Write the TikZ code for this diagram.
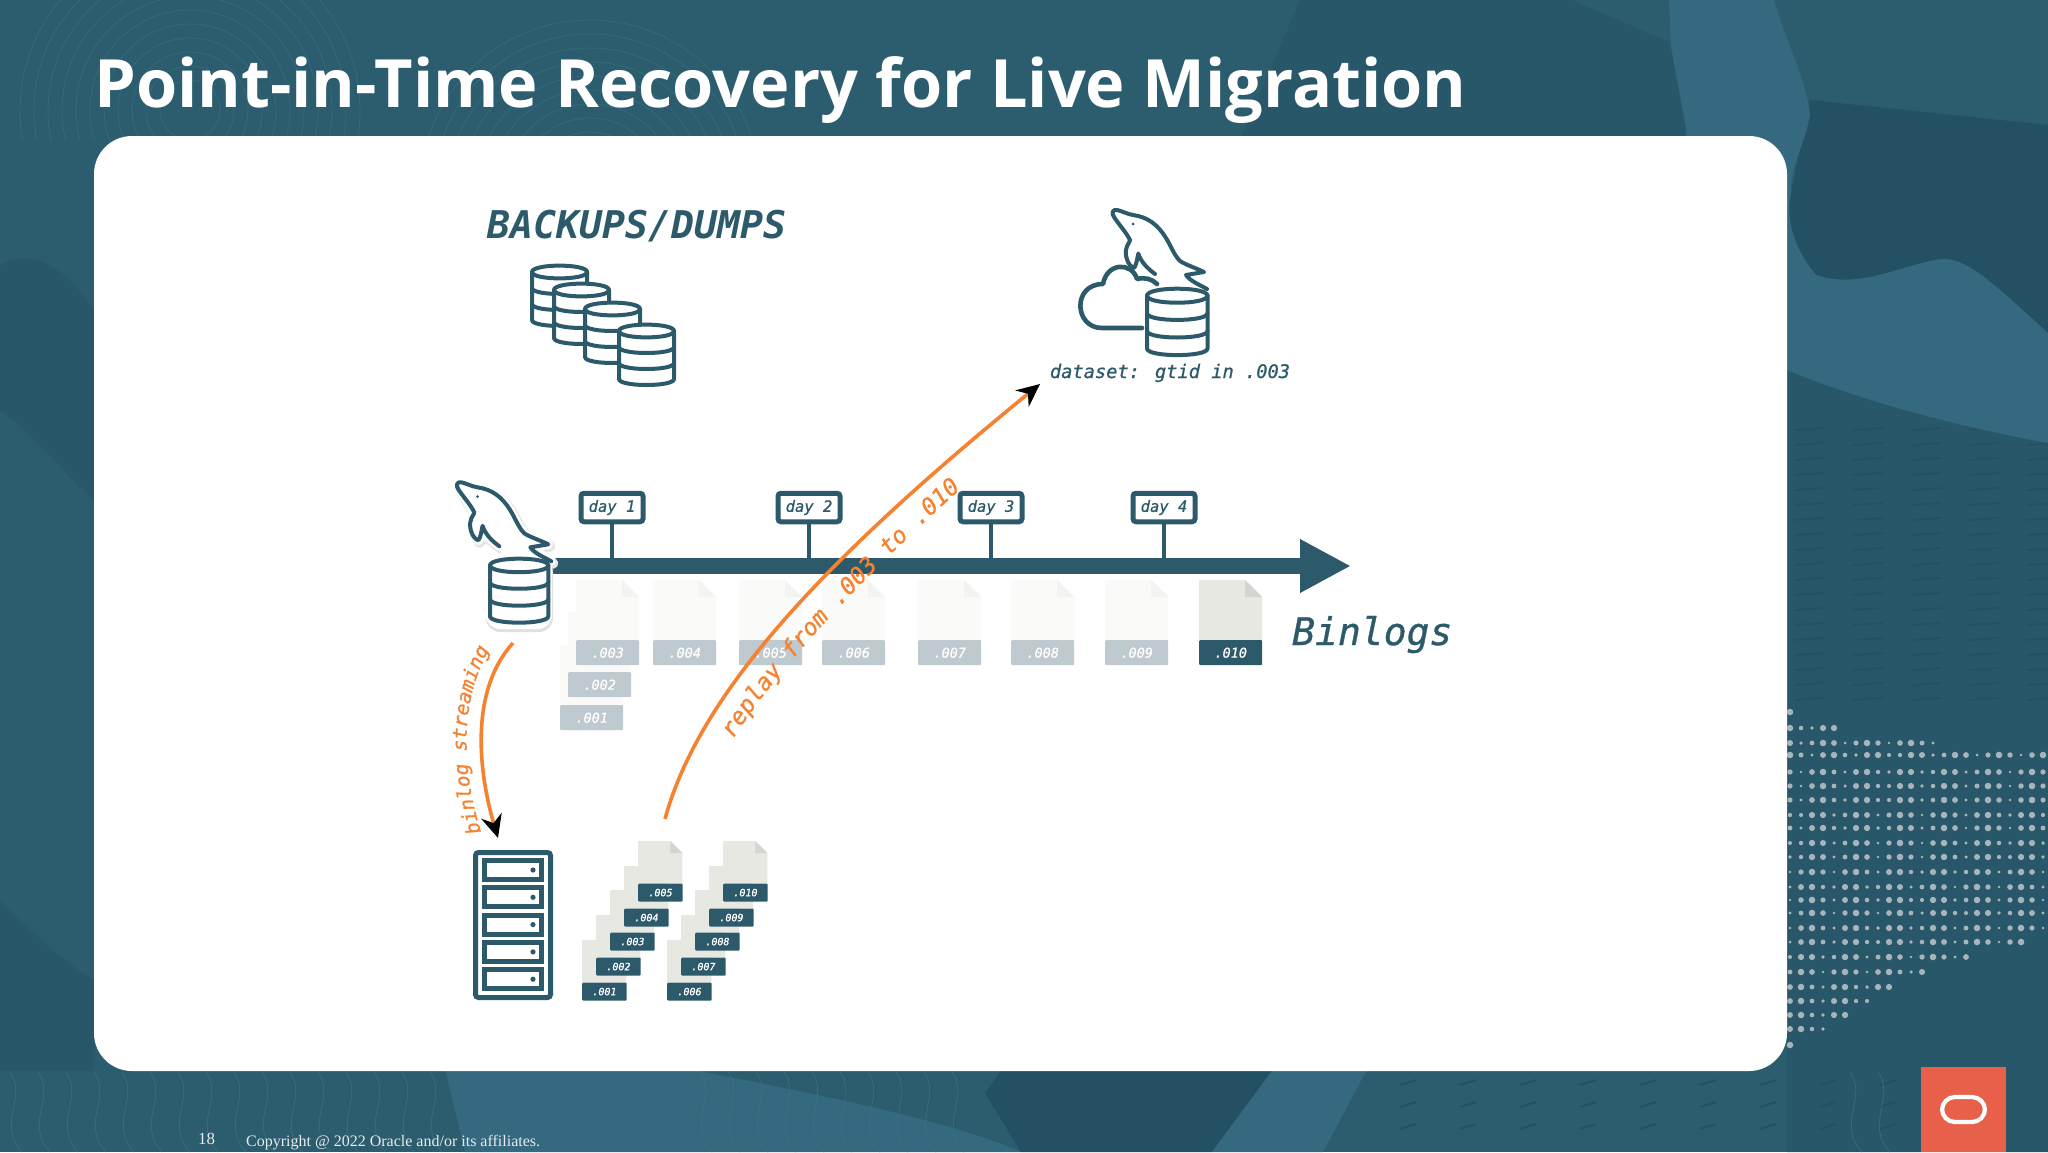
\documentclass[tikz,border=0pt]{standalone}
\usepackage{fontspec}
\usepackage{tikz}
\usetikzlibrary{arrows.meta,decorations.text}

\setmainfont{Liberation Serif}
\newfontfamily\titlefont{Open Sans}[BoldFont={Open Sans Bold}]
\newfontfamily\codefont{DejaVu Sans Mono}[ItalicFeatures={FakeBold=0.8}]

\definecolor{slatebase}{HTML}{2C5D6E}
\definecolor{slatedark}{HTML}{275769}
\definecolor{slatedeep}{HTML}{235062}
\definecolor{slatelight}{HTML}{34697F}
\definecolor{contourline}{HTML}{3D7182}
\definecolor{dotgrey}{HTML}{A8B4BA}
\definecolor{inkteal}{HTML}{2C5A6B}
\definecolor{binorange}{HTML}{F58230}
\definecolor{oraclered}{HTML}{E8604A}
\definecolor{fadelabel}{HTML}{BECACF}
\definecolor{fadebody}{HTML}{FAFAF9}
\definecolor{fadefold}{HTML}{F3F3F0}
\definecolor{solidbody}{HTML}{E8E8E3}
\definecolor{solidfold}{HTML}{D5D5CE}

\newcommand{\codesize}[1]{\codefont\itshape\fontsize{#1}{#1}\selectfont}

\tikzset{
    panel/.style={fill=white, rounded corners=38pt},
    iconline/.style={draw=inkteal, line width=4pt, line cap=round, line join=round},
    daybox/.style={draw=inkteal, line width=5pt, fill=white, rounded corners=3pt, text=inkteal,
        inner sep=0pt, minimum height=28.5pt, font=\codesize{15.5}},
    stem/.style={draw=inkteal, line width=3.6pt},
    flow/.style={draw=binorange, line width=3.6pt, -{Stealth[length=23pt,width=21pt,black]}},
    bigdoc/.style={doclabel/.style={inner sep=0pt, rounded corners=1pt, minimum width=63pt, minimum height=25pt,
        text=white, font=\codesize{13.5}, #1}},
    docfaded/.style={bigdoc={fill=fadelabel},
        docbody/.style={fill=fadebody}, docfold/.style={fill=fadefold}},
    docsolid/.style={bigdoc={fill=inkteal},
        docbody/.style={fill=solidbody}, docfold/.style={fill=solidfold}},
    docsmall/.style={scale=0.706,
        docbody/.style={fill=solidbody}, docfold/.style={fill=solidfold},
        doclabel/.style={inner sep=0pt, rounded corners=1pt, minimum width=44.5pt, minimum height=18pt,
            fill=inkteal, text=white, font=\codesize{10}}},
    pics/dbicon/.style={code={
        \filldraw[iconline, fill=white] (0,7) -- (0,55) .. controls (0,63) and (55,63) .. (55,55)
            -- (55,7) .. controls (55,-1.5) and (0,-1.5) .. (0,7) -- cycle;
        \draw[iconline] (0,7) .. controls (0,15.5) and (55,15.5) .. (55,7);
        \draw[iconline] (0,23) .. controls (0,31) and (55,31) .. (55,23);
        \draw[iconline] (0,39) .. controls (0,47) and (55,47) .. (55,39);
    }},
    pics/dolphin/.style={code={
        \draw[#1] (55,74) .. controls (47,68) and (41,62) .. (38.3,53.5) .. controls (37,60) and (36,66) .. (34,68)
            .. controls (28,66) and (25,56) .. (26,50) .. controls (26.5,45) and (30,42) .. (30,40)
            .. controls (26,32) and (20,26) .. (14,17) .. controls (11,13) and (13,9) .. (17,10)
            .. controls (22,11) and (27,14) .. (33,15) .. controls (48,17) and (58,25) .. (66,38)
            .. controls (71,46) and (74,55) .. (80,61) .. controls (86,65) and (96,68) .. (104,72)
            -- (86,75) .. controls (90,81) and (100,85) .. (107,89);
    }},
}

\newcommand{\binfile}[4]{
    \begin{scope}[shift={(#2,#3)},#1]
        \fill[docbody] (0,0) -- (46,0) -- (63,17) -- (63,60) -- (0,60) -- cycle;
        \fill[docfold] (46,0) -- (46,17) -- (63,17) -- cycle;
        \node[doclabel, anchor=north west] (file#4) at (0,60) {.#4};
    \end{scope}
}

\begin{document}
\begin{tikzpicture}[x=1pt,y=-1pt]
    \useasboundingbox (0,0) rectangle (2048,1152);

    % slide background
    \fill[slatebase] (0,0) rectangle (2048,1152);
    \fill[slatedark] (1300,0) -- (1572,0) -- (1669,42) -- (1690,140) -- (1240,140) -- cycle;
    \fill[slatedeep] (1810,100) -- (2048,125) -- (2048,333) -- (1983,275) -- (1941,259)
        .. controls (1900,265) and (1860,290) .. (1816,275) .. controls (1795,250) and (1785,220) .. (1791,193) -- cycle;
    \fill[slatedark] (1787,370) -- (2048,443) -- (2048,1152) -- (1787,1152) -- cycle;
    \fill[slatedark] (0,265) .. controls (30,250) and (60,260) .. (94,310) -- (94,500) .. controls (60,470) and (30,430) .. (0,410) -- cycle;
    \fill[slatedark] (0,900) .. controls (30,930) and (60,960) .. (94,980) -- (94,1071) -- (0,1071) -- cycle;
    \foreach \rowy in {430,445,...,700} {
        \foreach \colx in {1795,1853,...,2040} {
            \draw[slatedeep, line width=1.6pt] (\colx,\rowy) -- (\colx+30,\rowy-2);
        }
    }
    \fill[slatelight] (1669,0) -- (1774,0) .. controls (1785,40) and (1805,75) .. (1810,115)
        .. controls (1805,145) and (1790,165) .. (1791,193) .. controls (1785,220) and (1795,250) .. (1816,275)
        .. controls (1860,290) and (1900,265) .. (1941,259) .. controls (1965,257) and (1990,280) .. (2048,333)
        -- (2048,443) .. controls (1950,425) and (1860,400) .. (1787,370) -- (1700,370)
        -- (1686,129) -- (1671,46) -- cycle;
    \fill[slatedeep] (1009,1060) -- (985,1093) -- (1021,1152) -- (1212,1152) -- (1280,1060) -- cycle;
    \fill[slatelight] (443,1060) -- (640,1060) .. controls (800,1090) and (950,1120) .. (1021,1152) -- (465,1152) -- cycle;
    \fill[slatelight] (1280,1060) -- (1372,1060) -- (1323,1152) -- (1212,1152) -- cycle;
    \foreach \rowy in {1085,1107,1129} {
        \foreach \colx in {1400,1460,...,1880} {
            \draw[slatedeep, line width=2pt] (\colx,\rowy) -- (\colx+16,\rowy-5);
        }
    }
    \begin{scope}
        \clip (0,0) rectangle (1300,140);
        \foreach \r in {30,44,...,170} {
            \draw[contourline, line width=0.9pt, opacity=.55] (190,110) circle (\r);
            \draw[contourline, line width=0.9pt, opacity=.55] (590,190) circle (\r);
        }
    \end{scope}
    \foreach \colx in {10,38,...,440,700,728,...,960,1850,1878,...,1900} {
        \draw[contourline, line width=0.9pt, opacity=.7] (\colx,1072) .. controls (\colx+18,1095) and (\colx-14,1125) .. (\colx+12,1152);
    }
    \foreach \rowy/\rowend in {712/1795,728/1842,743/1943,755/2048,772/2048,786/2048,800/2048,815/2048,828/2048,843/2048,857/2048,872/2048,887/2048,900/2048,913/2048,928/2048,942/2023,957/1967,972/1927,987/1893,1001/1873,1015/1847,1029/1823,1045/1800} {
        \pgfmathtruncatemacro\lastdot{(\rowend-1790)/11}
        \foreach \k in {0,...,\lastdot} {
            \pgfmathsetmacro\rad{1.3+2*abs(sin(\k*47+\rowy*13))}
            \fill[dotgrey] (1790+11*\k,\rowy) circle (\rad);
        }
    }

    % panel and slide furniture
    \fill[panel] (94,136) rectangle (1787,1071);
    \node[anchor=base west, inner sep=0pt, text=white, font=\titlefont\bfseries\fontsize{66.6}{66.6}\selectfont] (title) at (94,107) {Point-in-Time Recovery for Live Migration};
    \node[anchor=base west, inner sep=0pt, text=white!88!inkteal, font=\fontsize{17}{17}\selectfont] (pagenum) at (198,1144) {18};
    \node[anchor=base west, inner sep=0pt, text=white!88!inkteal, font=\fontsize{16}{16}\selectfont] (copyright) at (246,1146) {Copyright @ 2022 Oracle and/or its affiliates.};
    \fill[oraclered] (1921,1067) rectangle (2006,1152);
    \draw[white, line width=4.2pt, rounded corners=13pt] (1942,1097) rectangle (1985,1122);

    % backups
    \node[anchor=base, inner sep=0pt, text=inkteal, font=\codefont\bfseries\itshape\fontsize{38.2}{38.2}\selectfont] (backups) at (637,238) {BACKUPS/DUMPS};
    \foreach \dbx/\dby in {532/265,554/283,585/302,619/324} {
        \pic at (\dbx,\dby) {dbicon};
    }

    % cloud target
    \draw[iconline, line width=4.6pt] (1142,328) -- (1102,328) .. controls (1074,328) and (1072,284) .. (1103,284)
        .. controls (1107,262) and (1132,262) .. (1137,279) .. controls (1145,277) and (1152,279) .. (1157,284);
    \pic at (1100,200) {dolphin={iconline}};
    \fill[inkteal] (1133,224) circle (1.5);
    \pic[scale=1.1] at (1147,288) {dbicon};
    \node[anchor=base, inner sep=0pt, text=inkteal, font=\codesize{18.7}] (dataset) at (1170,378) {dataset: gtid in .003};

    % timeline
    \coordinate (axisstart) at (540,566);
    \coordinate (axisend) at (1351,566);
    \draw[draw=inkteal, line width=16.5pt, -{Triangle[length=51pt,width=50pt]}] (axisstart) -- (axisend);
    \node[daybox, minimum width=62pt] (day1) at (612,507.5) {day 1};
    \node[daybox, minimum width=62pt] (day2) at (809,507.5) {day 2};
    \node[daybox, minimum width=62pt] (day3) at (991,507.5) {day 3};
    \node[daybox, minimum width=62pt] (day4) at (1164,507.5) {day 4};
    \foreach \d in {day1,day2,day3,day4} {
        \draw[stem] (\d.south) -- (\d.south |- axisstart);
    }

    % source server
    \begin{scope}[shift={(444.3,472.3)}]
        \draw[black!10, line width=11pt, line join=round, line cap=round, shift={(1.5,2)}] (55,74) .. controls (41,62) and (38,60) .. (34,68) .. controls (25,56) and (28,44) .. (30,40) .. controls (20,26) and (10,10) .. (17,10) .. controls (48,17) and (58,25) .. (66,38) .. controls (71,46) and (74,55) .. (80,61) .. controls (86,65) and (96,68) .. (104,72) -- (86,75) -- (107,89);
        \fill[white] (55,74) .. controls (41,62) and (38,60) .. (34,68) .. controls (25,56) and (28,44) .. (30,40) .. controls (20,26) and (10,10) .. (17,10) .. controls (48,17) and (58,25) .. (66,38) .. controls (71,46) and (74,55) .. (80,61) .. controls (86,65) and (96,68) .. (104,72) -- (86,75) -- (107,89) -- (60,90) -- cycle;
        \draw[white, line width=9pt, line join=round, line cap=round] (55,74) .. controls (41,62) and (38,60) .. (34,68) .. controls (25,56) and (28,44) .. (30,40) .. controls (20,26) and (10,10) .. (17,10) .. controls (48,17) and (58,25) .. (66,38) .. controls (71,46) and (74,55) .. (80,61) .. controls (86,65) and (96,68) .. (104,72) -- (86,75) -- (107,89);
    \end{scope}
    \fill[black!12, rounded corners=14pt] (486,558) rectangle (553,632);
    \fill[white, rounded corners=14pt] (486,555) rectangle (552,629);
    \pic at (444.3,472.3) {dolphin={iconline}};
    \fill[inkteal] (477.5,496.5) circle (1.5);
    \pic[scale=1.06] at (490,558) {dbicon};

    % binlog files on the source
    \binfile{docfaded}{560}{645}{001}
    \binfile{docfaded}{568}{612}{002}
    \binfile{docfaded}{576}{580}{003}
    \binfile{docfaded}{653}{580}{004}
    \binfile{docfaded}{739}{580}{005}
    \binfile{docfaded}{822}{580}{006}
    \binfile{docfaded}{918}{580}{007}
    \binfile{docfaded}{1011}{580}{008}
    \binfile{docfaded}{1105}{580}{009}
    \binfile{docsolid}{1199}{580}{010}
    \node[anchor=base west, inner sep=0pt, text=inkteal, font=\codesize{38}] (binlogs) at (1292,645) {Binlogs};

    % binlog server
    \draw[draw=inkteal, line width=5pt, fill=white, rounded corners=3pt] (475.5,852.5) rectangle (550.5,997.5);
    \foreach \k in {0,...,4} {
        \draw[draw=inkteal, line width=5pt] (484.5,860.5+27.3*\k) rectangle (541.5,879.5+27.3*\k);
        \fill[inkteal] (533,870+27.3*\k) circle (2.6);
    }

    % binlog files on the server
    \binfile{docsmall}{582}{940}{001}
    \binfile{docsmall}{596}{915}{002}
    \binfile{docsmall}{610}{890}{003}
    \binfile{docsmall}{624}{866}{004}
    \binfile{docsmall}{638}{841}{005}
    \binfile{docsmall}{667}{940}{006}
    \binfile{docsmall}{681}{915}{007}
    \binfile{docsmall}{695}{890}{008}
    \binfile{docsmall}{709}{866}{009}
    \binfile{docsmall}{723}{841}{010}

    % flows
    \coordinate (streamstart) at (513,643);
    \coordinate (streamend) at (498,838);
    \draw[flow] (streamstart) .. controls (470,690) and (478,770) .. (streamend);
    \coordinate (replaystart) at (665,819);
    \coordinate (replayend) at (1040,384);
    \draw[flow] (replaystart) .. controls (700,690) and (830,555) .. (replayend);

    \path[decorate, decoration={text along path, text color=binorange,
        text={|\codesize{19.5}|binlog streaming}}]
        (481,832) .. controls (462,770) and (458,700) .. (492,645);
    \path[decorate, decoration={text along path, text color=binorange,
        text={|\codesize{23.5}|replay from .003 to .010}}]
        (733,739) .. controls (775,672) and (865,572) .. (980,472);
\end{tikzpicture}
\end{document}
